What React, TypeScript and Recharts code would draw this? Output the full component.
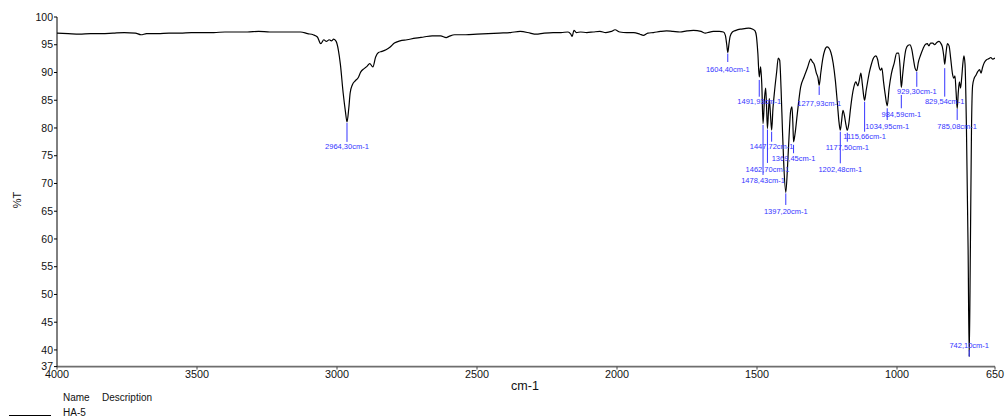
import { ComposedChart, Line, Scatter, XAxis, YAxis } from "recharts";

const FONT = "'Liberation Sans', Arial, sans-serif";
const BLUE = "#3535ff";

// spectrum: wavenumber (cm-1) and %T
const HIGH_W = [4000, 3960, 3920, 3880, 3840, 3800, 3760, 3720, 3700, 3680, 3640, 3600, 3560, 3520, 3480, 3440, 3400, 3360, 3320, 3280, 3240, 3200, 3160, 3130, 3105, 3085, 3070, 3058, 3047, 3038, 3028, 3020, 3012, 3003, 2995, 2988, 2978, 2970, 2964.3, 2958, 2953, 2945, 2935, 2925, 2915, 2903, 2893, 2883, 2872, 2862, 2852, 2840, 2825, 2810, 2795, 2775, 2750, 2720, 2690, 2660, 2630, 2610, 2600, 2580, 2540, 2500, 2460, 2420, 2380, 2346, 2310, 2290, 2260, 2228, 2200, 2175, 2165, 2160, 2154, 2145, 2130, 2108, 2085, 2061, 2040, 2020, 2007, 1990, 1965, 1940, 1918, 1906, 1890, 1870, 1845, 1823, 1800];
const HIGH_T = [97.1, 97.0, 96.9, 97.0, 97.0, 97.1, 97.2, 97.1, 96.8, 97.0, 97.0, 97.1, 97.1, 97.2, 97.2, 97.2, 97.3, 97.3, 97.3, 97.4, 97.3, 97.3, 97.3, 97.3, 97.0, 96.8, 96.4, 95.2, 95.9, 95.6, 95.9, 95.7, 96.0, 95.6, 94.0, 91.5, 86.3, 83.0, 81.1, 83.5, 86.3, 87.8, 88.5, 89.0, 90.1, 90.7, 91.1, 91.6, 91.0, 92.8, 93.6, 93.8, 94.1, 94.6, 95.3, 95.7, 95.9, 96.2, 96.4, 96.6, 96.6, 96.3, 96.5, 96.8, 96.8, 96.9, 97.0, 97.1, 97.2, 97.4, 97.1, 96.9, 97.1, 97.2, 97.2, 97.3, 96.9, 96.5, 97.6, 97.2, 97.3, 97.2, 97.3, 97.4, 97.2, 97.4, 97.7, 97.3, 97.2, 97.2, 96.9, 96.7, 97.1, 97.2, 97.4, 97.5, 97.4];

const MID_W = [1775, 1750, 1727, 1700, 1684, 1675, 1656, 1635, 1620, 1613, 1608, 1604.4, 1600, 1596, 1588, 1575, 1560, 1545, 1530, 1515, 1507, 1502, 1497, 1491.93, 1487, 1483, 1478.43, 1473, 1469, 1466, 1462.7, 1459, 1456, 1452, 1447.72, 1443, 1437, 1430, 1424, 1419, 1414, 1409, 1404, 1397.2, 1391, 1386, 1380, 1375, 1372, 1369.45, 1364, 1356, 1344, 1332, 1320, 1308, 1302, 1296, 1288, 1282, 1277.93, 1272, 1265, 1258, 1250, 1243, 1236, 1228, 1220, 1213, 1207, 1202.48, 1198, 1193, 1188, 1182, 1177.5, 1172, 1166, 1160, 1154, 1147, 1140, 1135, 1129, 1124, 1119, 1115.66, 1110, 1104, 1098, 1092, 1084, 1076, 1069, 1064, 1059, 1054, 1048, 1042, 1034.95, 1028, 1020, 1010, 1001];
const MID_T = [97.3, 97.5, 97.6, 97.4, 97.1, 97.2, 97.4, 97.4, 97.3, 96.7, 95.0, 93.6, 95.2, 96.5, 97.3, 97.6, 97.8, 97.9, 98.0, 97.8, 97.5, 96.5, 93.5, 89.2, 91.0, 88.0, 80.8, 85.5, 87.2, 84.0, 79.9, 83.0, 85.3, 82.5, 79.6, 83.5, 86.8, 90.0, 92.6, 92.2, 87.0, 79.5, 73.0, 68.4, 73.0, 78.0, 83.0, 83.8, 81.0, 77.5, 79.0, 82.6, 87.4, 89.2, 90.8, 92.4, 91.9, 91.5, 89.9, 89.0, 87.7, 90.0, 92.5, 94.0, 94.6, 94.4, 93.6, 91.7, 88.5, 84.5, 81.0, 79.6, 81.2, 83.2, 82.3, 80.5, 79.6, 80.8, 83.5, 85.8, 87.4, 88.3, 87.6, 88.5, 89.9, 88.0, 85.8, 85.0, 86.8, 88.6, 90.2, 91.4, 92.6, 93.0, 92.3, 91.0, 90.4, 90.8, 88.3, 86.0, 84.0, 87.2, 89.8, 91.7, 93.5];

const LOW_W = [994, 989, 984.59, 980, 975, 968, 960, 954, 947, 941, 935, 929.3, 924, 916, 907, 898, 892, 886, 880, 872, 866, 858, 850, 844, 838, 833, 829.54, 825, 820, 814, 808, 802, 797, 793, 789, 785.08, 781, 777, 773, 769, 765, 761, 757, 752, 746, 742.1, 738, 734, 730, 724, 718, 711, 705, 700, 694, 688, 680, 672, 665, 658, 650];
const LOW_T = [93.5, 91.0, 87.3, 89.5, 91.9, 94.2, 94.9, 95.0, 94.1, 92.3, 90.7, 90.3, 91.8, 93.1, 94.3, 95.1, 95.2, 94.8, 95.3, 95.3, 95.0, 95.4, 95.6, 95.3, 94.6, 93.0, 91.5, 93.5, 95.2, 94.8, 92.4, 89.8, 89.0, 89.4, 86.5, 83.5, 86.5, 88.3, 87.2, 89.0, 91.5, 93.0, 91.5, 80.0, 58.0, 38.8, 58.0, 79.6, 87.6, 89.0, 89.5, 90.2, 90.5, 89.9, 91.0, 91.8, 92.3, 92.5, 92.7, 92.4, 92.6];

// labelled peaks
const PEAK_W = [2964.3, 1604.4, 1491.93, 1478.43, 1462.7, 1447.72, 1397.2, 1369.45, 1277.93, 1202.48, 1177.5, 1115.66, 1034.95, 984.59, 929.3, 829.54, 785.08, 742.1];
const PEAK_T = [81.1, 93.6, 89.2, 80.8, 79.9, 79.6, 68.4, 77.5, 87.7, 79.6, 79.6, 85.0, 84.0, 87.3, 90.3, 91.5, 83.5, 38.8];

const X_TICKS = [4000, 3500, 3000, 2500, 2000, 1500, 1000, 650];
const Y_TICKS = [37, 40, 45, 50, 55, 60, 65, 70, 75, 80, 85, 90, 95, 100];

// where each peak label sits, px below its peak: tick start, tick end, text centre
const LABEL_LAYOUT = [
  [1, 20, 24.8], [1, 9.5, 16.8], [3, 19.8, 24.1], [1.4, 51.4, 56.4], [1, 34.4, 40.7], [1.5, 11.5, 16.5],
  [1, 12.6, 19.3], [3, 11.4, 16.4], [1, 9.7, 18], [1.5, 33.1, 39.1], [2.5, 11.5, 17.1], [1.5, 31.5, 36.5],
  [2.5, 14.2, 20.2], [7.5, 20.8, 26.8], [1, 16, 20.2], [4, 32.5, 37.5], [0.5, 11.4, 17.4], [-6.7, 0, -11.7],
];

const ALL_W = [...HIGH_W, ...MID_W, ...LOW_W];
const ALL_T = [...HIGH_T, ...MID_T, ...LOW_T];
const spectrum = ALL_W.map((w, i) => ({ w, t: ALL_T[i] }));
const peaks = PEAK_W.map((w, i) => ({ w, t: PEAK_T[i], idx: i }));

const peakText = (w: number) => `${w.toFixed(2).replace(".", ",")}cm-1`;

function PeakMark(props: any) {
  const { cx, cy, payload } = props;
  if (cx == null || cy == null) return null;
  const [a, b, ty] = LABEL_LAYOUT[payload.idx];
  return (
    <g>
      <line x1={cx} x2={cx} y1={cy + a} y2={cy + b} stroke={BLUE} strokeWidth={1} />
      <text x={cx} y={cy + ty} dy="0.35em" textAnchor="middle" fontSize={7.5} fontFamily={FONT} fill={BLUE}>
        {peakText(payload.w)}
      </text>
    </g>
  );
}

export default function App() {
  return (
    <div style={{ position: "absolute", left: 0, top: 0, width: 1007, height: 419, background: "#fff", fontFamily: FONT }}>
      <ComposedChart width={1007} height={419} margin={{ top: 17, right: 12, bottom: 22.4, left: 0 }}>
        <XAxis
          dataKey="w" type="number" domain={[650, 4000]} reversed allowDataOverflow
          ticks={X_TICKS} interval={0} height={30} tickSize={3} tickMargin={1}
          axisLine={{ stroke: "#6e6e6e", strokeWidth: 1.6 }} tickLine={{ stroke: "#444" }}
          tick={{ fontSize: 10.8, fill: "#111", fontFamily: FONT }}
        />
        <YAxis
          type="number" domain={[37, 100]} allowDataOverflow ticks={Y_TICKS} interval={0}
          width={57} tickSize={3} tickMargin={1}
          axisLine={{ stroke: "#000" }} tickLine={{ stroke: "#000" }}
          tick={{ fontSize: 10.5, fill: "#111", fontFamily: FONT }}
        />
        <Line data={spectrum} dataKey="t" type="monotone" stroke="#000" strokeWidth={1.2} dot={false} activeDot={false} isAnimationActive={false} />
        <Scatter data={peaks} dataKey="t" shape={PeakMark} isAnimationActive={false} />
      </ComposedChart>

      {/* axis titles */}
      <div style={{ position: "absolute", left: 17, top: 200, transform: "translate(-50%, -50%) rotate(-90deg)", fontSize: 11, color: "#111", whiteSpace: "nowrap" }}>%T</div>
      <div style={{ position: "absolute", left: 525, top: 386, transform: "translate(-50%, -50%)", fontSize: 12.5, color: "#111" }}>cm-1</div>

      {/* legend */}
      <div style={{ position: "absolute", left: 63, top: 392, fontSize: 10, color: "#111", lineHeight: "12px" }}>Name</div>
      <div style={{ position: "absolute", left: 102, top: 392, fontSize: 10, color: "#111", lineHeight: "12px" }}>Description</div>
      <div style={{ position: "absolute", left: 9, top: 414.5, width: 42, height: 1, background: "#000" }} />
      <div style={{ position: "absolute", left: 63, top: 407, fontSize: 10, color: "#111", lineHeight: "12px" }}>HA-5</div>
    </div>
  );
}
